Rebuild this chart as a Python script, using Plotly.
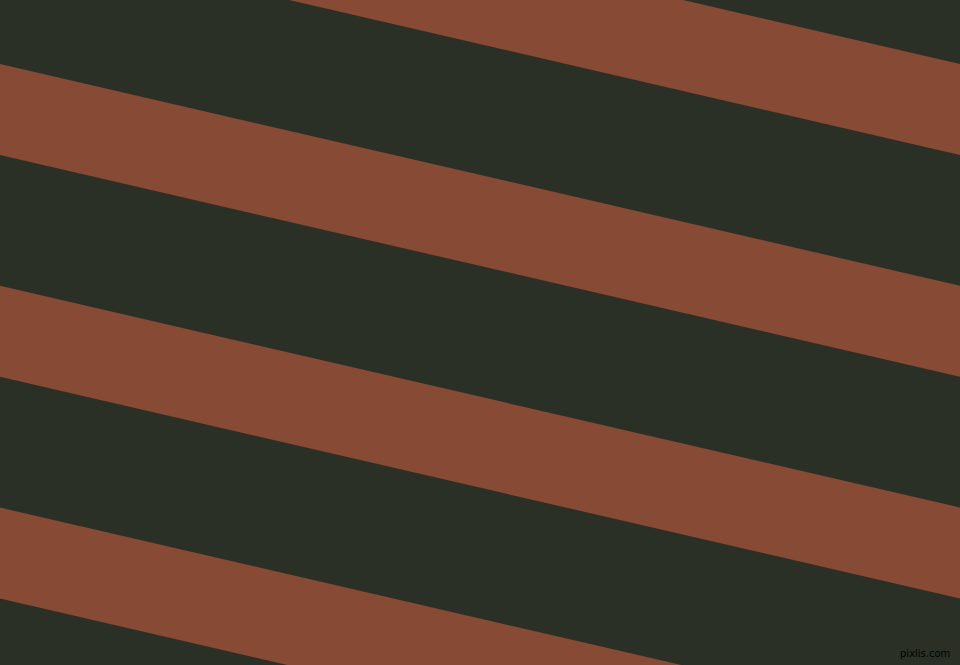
import plotly.graph_objects as go

# Stripe pattern parameters
band_top_at_left = [-157.8, 64.0, 285.8, 507.6, 729.4]   # top edge of each brown band at x=0 (px)
band_height = 91.0                                      # vertical thickness of a brown band
band_slope = 0.231                                      # drop in px per px to the right
canvas_w, canvas_h = 960, 665
dark_color = "#2B3027"
brown_color = "#874A35"

fig = go.Figure()
x_left, x_right = -20, canvas_w + 20
for off in band_top_at_left:
    xs = [x_left, x_right, x_right, x_left, x_left]
    ys = [off + band_slope * x_left, off + band_slope * x_right,
          off + band_height + band_slope * x_right, off + band_height + band_slope * x_left,
          off + band_slope * x_left]
    fig.add_trace(go.Scatter(x=xs, y=ys, mode="lines", fill="toself",
                             fillcolor=brown_color, line=dict(width=0, color=brown_color),
                             hoverinfo="skip", showlegend=False))

fig.add_annotation(x=canvas_w - 8, y=canvas_h - 4, xref="x", yref="y",
                   text="pixlis.com", showarrow=False, xanchor="right", yanchor="bottom",
                   font=dict(family="DejaVu Sans", size=10, color="#000000"))

fig.update_layout(
    width=canvas_w, height=canvas_h, autosize=False,
    margin=dict(l=0, r=0, t=0, b=0),
    paper_bgcolor=dark_color, plot_bgcolor=dark_color,
    xaxis=dict(range=[0, canvas_w], visible=False, fixedrange=True),
    yaxis=dict(range=[canvas_h, 0], visible=False, fixedrange=True),
)
fig.write_html("out.html", config={"displayModeBar": False},
               post_script="document.body.style.margin='0';document.body.style.overflow='hidden';document.body.style.background='" + dark_color + "';")
